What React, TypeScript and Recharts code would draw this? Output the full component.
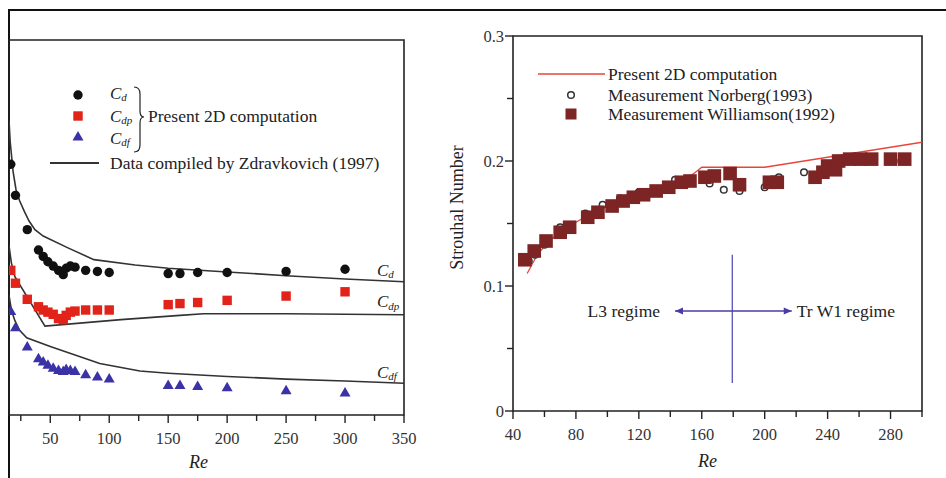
import {
  ComposedChart, Line, Scatter, XAxis, YAxis,
  ReferenceArea, ReferenceLine, ReferenceDot,
} from "recharts";

const SERIF = "'Liberation Serif', 'Times New Roman', serif";
const INK = "#222";

// ---- left panel: drag coefficients, present 2D computation ----
const RE_2D = [16.5, 20.5, 30.5, 40, 44, 48, 52.5, 57, 61, 63.5, 67, 71, 80, 90, 100, 150, 160, 175, 200, 250, 300];
const CD_2D = [2.34, 2.05, 1.73, 1.54, 1.48, 1.43, 1.39, 1.35, 1.31, 1.37, 1.39, 1.38, 1.35, 1.34, 1.33, 1.32, 1.32, 1.33, 1.33, 1.34, 1.36];
const CDP_2D = [1.35, 1.23, 1.08, 1.01, 0.98, 0.96, 0.94, 0.9, 0.89, 0.93, 0.96, 0.97, 0.98, 0.98, 0.98, 1.03, 1.04, 1.05, 1.07, 1.11, 1.15];
const CDF_2D = [0.97, 0.82, 0.64, 0.53, 0.5, 0.47, 0.44, 0.42, 0.41, 0.43, 0.42, 0.41, 0.38, 0.36, 0.34, 0.28, 0.28, 0.27, 0.26, 0.23, 0.21];

// Zdravkovich (1997) compiled curves
const ZD_CD_RE = [15, 16, 18.5, 21, 24, 28, 32, 37, 44, 65, 87, 122, 150, 200, 250, 300, 350];
const ZD_CD = [2.75, 2.55, 2.27, 2.1, 2.0, 1.9, 1.81, 1.73, 1.67, 1.56, 1.45, 1.4, 1.37, 1.335, 1.3, 1.27, 1.244];
const ZD_CDP_RE = [15, 17, 20, 45.5, 110, 160, 180, 250, 350];
const ZD_CDP = [1.58, 1.42, 1.29, 0.83, 0.89, 0.93, 0.945, 0.945, 0.935];
const ZD_CDF_RE = [15, 17, 20, 24, 30, 50, 92, 126, 150, 200, 250, 300, 350];
const ZD_CDF = [1.12, 0.98, 0.88, 0.79, 0.72, 0.64, 0.48, 0.41, 0.39, 0.36, 0.335, 0.318, 0.296];

// ---- right panel: Strouhal number ----
const ST_2D_RE = [49, 52, 55, 60, 65, 70, 80, 90, 100, 110, 120, 130, 140, 150, 155, 160, 200, 300];
const ST_2D = [0.11, 0.117, 0.124, 0.132, 0.138, 0.143, 0.151, 0.158, 0.164, 0.169, 0.174, 0.178, 0.182, 0.1865, 0.19, 0.195, 0.195, 0.215];
const NORBERG_RE = [50, 54, 60, 70, 86, 97, 108, 120, 143, 165, 174, 184, 200, 209, 225, 251, 282];
const NORBERG_ST = [0.12, 0.125, 0.133, 0.147, 0.158, 0.165, 0.17, 0.175, 0.185, 0.182, 0.177, 0.176, 0.179, 0.187, 0.191, 0.2, 0.2];
const WILLIAMSON_RE = [47.5, 53.5, 61, 70, 76, 87.5, 94, 103, 110, 116.5, 123, 131, 139, 147, 152.5, 162, 168, 178, 184, 203, 208, 232, 237, 240, 245, 247, 254, 261, 268, 280, 289];
const WILLIAMSON_ST = [0.121, 0.128, 0.136, 0.143, 0.147, 0.155, 0.159, 0.164, 0.168, 0.171, 0.173, 0.176, 0.179, 0.183, 0.184, 0.187, 0.188, 0.19, 0.181, 0.183, 0.183, 0.187, 0.191, 0.196, 0.193, 0.2, 0.2015, 0.2015, 0.2015, 0.2015, 0.2015];

// regime marker: boundary Re and arrow extent
const REGIME_RE = 179.4;
const ARROW_FROM = 143;
const ARROW_TO = 217.2;
const ARROW_ST = 0.08;

const LEFT_TICKS = [25, 50, 75, 100, 125, 150, 175, 200, 225, 250, 275, 300, 325, 350];
const RIGHT_TICKS = [40, 60, 80, 100, 120, 140, 160, 180, 200, 220, 240, 260, 280, 300];
const ST_TICKS = [0, 0.05, 0.1, 0.15, 0.2, 0.25, 0.3];

const zip = (xs: number[], ys: number[]) => xs.map((re, i) => ({ re, v: ys[i] }));

const makeXTick = (isMajor: (v: number) => boolean) => ({ x, y, payload }: any) => {
  const major = isMajor(payload.value);
  return (
    <g>
      <line x1={x} y1={y} x2={x} y2={y + (major ? 8 : 6)} stroke={INK} strokeWidth={1.4} />
      {major && (
        <text x={x} y={y + 23} textAnchor="middle" dominantBaseline="central"
          fontFamily={SERIF} fontSize={16.5} fill="#333">
          {payload.value}
        </text>
      )}
    </g>
  );
};

const StTick = ({ x, y, payload }: any) => {
  const v = payload.value;
  const major = Math.abs(v * 10 - Math.round(v * 10)) < 1e-6;
  return (
    <g>
      <line x1={x} y1={y} x2={x - (major ? 8 : 6)} y2={y} stroke={INK} strokeWidth={1.4} />
      {major && (
        <text x={x - 9} y={y} textAnchor="end" dominantBaseline="central"
          fontFamily={SERIF} fontSize={16.5} fill="#333">
          {String(v)}
        </text>
      )}
    </g>
  );
};

const reLabel = (dx: number, dy: number) => ({ viewBox }: any) => (
  <text x={viewBox.x + viewBox.width / 2 + dx} y={viewBox.y + dy} textAnchor="middle"
    dominantBaseline="central" fontFamily={SERIF} fontStyle="italic" fontSize={18} fill={INK}>
    Re
  </text>
);

const Coef = ({ x, y, sub }: { x: number; y: number; sub: string }) => (
  <text x={x} y={y} fontFamily={SERIF} fontStyle="italic" fontSize={17} fill={INK} dominantBaseline="central">
    C<tspan fontSize={11} dy={4}>{sub}</tspan>
  </text>
);

// markers
const BlackDot = (p: any) => <circle cx={p.cx} cy={p.cy} r={4.7} fill="#111" />;
const RedSquare = (p: any) => (
  <rect x={p.cx - 4.7} y={p.cy - 4.7} width={9.4} height={9.4} fill="#e2231a" />
);
const BlueTriangle = (p: any) => (
  <polygon points={`${p.cx},${p.cy - 5.5} ${p.cx + 5.5},${p.cy + 4} ${p.cx - 5.5},${p.cy + 4}`} fill="#3a32a6" />
);
const BrownSquare = (p: any) => (
  <rect x={p.cx - 6.8} y={p.cy - 6.8} width={13.6} height={13.6} fill="#7d2424" />
);
const OpenCircle = (p: any) => (
  <circle cx={p.cx} cy={p.cy} r={3.3} fill="#fff" stroke="#333" strokeWidth={1.5} />
);

const ARROW = "#4a3da5";

function DragPanel() {
  return (
    <ComposedChart width={420} height={478} margin={{ top: 40, right: 16, bottom: 33, left: 9 }}>
      <XAxis type="number" dataKey="re" domain={[15, 350]} ticks={LEFT_TICKS} allowDataOverflow
        height={30} axisLine={false} tickLine={false} tickSize={0} tickMargin={0}
        tick={makeXTick((v) => v % 50 === 0)} label={{ content: reLabel(-8, 47) }} />
      <YAxis type="number" dataKey="v" domain={[0, 3.5]} hide allowDataOverflow />
      <ReferenceArea x1={15} x2={350} y1={0} y2={3.5} fill="none" stroke={INK} strokeWidth={1.6} />

      <Line data={zip(ZD_CD_RE, ZD_CD)} dataKey="v" type="linear" stroke="#333" strokeWidth={1.6} dot={false} isAnimationActive={false} />
      <Line data={zip(ZD_CDP_RE, ZD_CDP)} dataKey="v" type="linear" stroke="#333" strokeWidth={1.6} dot={false} isAnimationActive={false} />
      <Line data={zip(ZD_CDF_RE, ZD_CDF)} dataKey="v" type="linear" stroke="#333" strokeWidth={1.6} dot={false} isAnimationActive={false} />

      <Scatter data={zip(RE_2D, CD_2D)} shape={BlackDot} isAnimationActive={false} />
      <Scatter data={zip(RE_2D, CDP_2D)} shape={RedSquare} isAnimationActive={false} />
      <Scatter data={zip(RE_2D, CDF_2D)} shape={BlueTriangle} isAnimationActive={false} />

      <ReferenceDot x={327} y={1.353} r={1} shape={(p: any) => <Coef x={p.cx} y={p.cy} sub="d" />} />
      <ReferenceDot x={327} y={1.055} r={1} shape={(p: any) => <Coef x={p.cx} y={p.cy} sub="dp" />} />
      <ReferenceDot x={327} y={0.401} r={1} shape={(p: any) => <Coef x={p.cx} y={p.cy} sub="df" />} />
    </ComposedChart>
  );
}

function StrouhalPanel() {
  return (
    <ComposedChart width={526} height={478} margin={{ top: 36, right: 24, bottom: 37, left: 33 }}>
      <XAxis type="number" dataKey="re" domain={[40, 300]} ticks={RIGHT_TICKS} allowDataOverflow
        height={30} axisLine={false} tickLine={false} tickSize={0} tickMargin={0}
        tick={makeXTick((v) => v % 40 === 0)} label={{ content: reLabel(-10, 50) }} />
      <YAxis type="number" dataKey="v" domain={[0, 0.3]} ticks={ST_TICKS} allowDataOverflow
        width={60} axisLine={false} tickLine={false} tickSize={0} tickMargin={0} tick={StTick}
        label={{
          content: ({ viewBox }: any) => {
            const cx = viewBox.x + 4;
            const cy = viewBox.y + viewBox.height / 2 - 16;
            return (
              <text x={cx} y={cy} transform={`rotate(-90 ${cx} ${cy})`} textAnchor="middle"
                dominantBaseline="central" fontFamily={SERIF} fontSize={18} fill={INK}>
                Strouhal Number
              </text>
            );
          },
        }} />
      <ReferenceArea x1={40} x2={300} y1={0} y2={0.3} fill="none" stroke={INK} strokeWidth={1.6} />

      {/* Norberg rings sit under the Williamson squares */}
      <Line data={zip(ST_2D_RE, ST_2D)} dataKey="v" type="linear" stroke="#e8443a" strokeWidth={1.3} dot={false} isAnimationActive={false} />
      <Scatter data={zip(NORBERG_RE, NORBERG_ST)} shape={OpenCircle} isAnimationActive={false} />
      <Scatter data={zip(WILLIAMSON_RE, WILLIAMSON_ST)} shape={BrownSquare} isAnimationActive={false} />

      <ReferenceLine segment={[{ x: REGIME_RE, y: 0.0224 }, { x: REGIME_RE, y: 0.125 }]} stroke="#5a50b8" strokeWidth={1.3} />
      <ReferenceLine segment={[{ x: ARROW_FROM, y: ARROW_ST }, { x: ARROW_TO, y: ARROW_ST }]} stroke={ARROW} strokeWidth={1.6} />
      <ReferenceDot x={ARROW_FROM} y={ARROW_ST} r={1} shape={(p: any) => (
        <g>
          <polygon points={`${p.cx},${p.cy} ${p.cx + 8},${p.cy - 3.5} ${p.cx + 8},${p.cy + 3.5}`} fill={ARROW} />
          <text x={p.cx - 15} y={p.cy} textAnchor="end" dominantBaseline="central" fontFamily={SERIF} fontSize={17.5} fill={INK}>
            L3 regime
          </text>
        </g>
      )} />
      <ReferenceDot x={ARROW_TO} y={ARROW_ST} r={1} shape={(p: any) => (
        <g>
          <polygon points={`${p.cx},${p.cy} ${p.cx - 8},${p.cy - 3.5} ${p.cx - 8},${p.cy + 3.5}`} fill={ARROW} />
          <text x={p.cx + 5} y={p.cy} dominantBaseline="central" fontFamily={SERIF} fontSize={17.5} fill={INK}>
            Tr W1 regime
          </text>
        </g>
      )} />
    </ComposedChart>
  );
}

const legendText = { fontFamily: SERIF, fontSize: 17.5, fill: INK, dominantBaseline: "central" as const };

export default function App() {
  return (
    <div style={{ position: "absolute", left: 0, top: 0, width: 946, height: 478, background: "#fff", overflow: "hidden" }}>
      {/* outer frame */}
      <div style={{ position: "absolute", left: 8, top: 9, width: 938, height: 469, borderTop: "2px solid #111", borderLeft: "2px solid #111" }} />

      <div style={{ position: "absolute", left: 0, top: 0 }}>
        <DragPanel />
      </div>
      <div style={{ position: "absolute", left: 420, top: 0 }}>
        <StrouhalPanel />
      </div>

      {/* legends */}
      <svg width={946} height={200} style={{ position: "absolute", left: 0, top: 0, pointerEvents: "none" }}>
        <circle cx={78} cy={95} r={4.7} fill="#111" />
        <rect x={73.3} y={111.3} width={9.4} height={9.4} fill="#e2231a" />
        <polygon points="78,131 83.5,140.5 72.5,140.5" fill="#3a32a6" />
        <Coef x={110} y={93} sub="d" />
        <Coef x={110} y={116} sub="dp" />
        <Coef x={110} y={138} sub="df" />
        <path d="M134,87 Q140,87 140,94 L140,111 Q140,117 144,117 Q140,117 140,123 L140,145 Q140,152 134,152"
          fill="none" stroke={INK} strokeWidth={1.2} />
        <text x={148} y={116} {...legendText}>Present 2D computation</text>
        <line x1={50} y1={163} x2={99} y2={163} stroke="#333" strokeWidth={2} />
        <text x={110} y={163} {...legendText}>Data compiled by Zdravkovich (1997)</text>

        <line x1={538} y1={74} x2={605} y2={74} stroke="#e8443a" strokeWidth={1.3} />
        <text x={608} y={74} {...legendText}>Present 2D computation</text>
        <circle cx={571} cy={95} r={3.3} fill="#fff" stroke="#333" strokeWidth={1.5} />
        <text x={608} y={95} {...legendText}>Measurement Norberg(1993)</text>
        <rect x={565.5} y={108.5} width={11} height={11} fill="#7d2424" />
        <text x={608} y={114} {...legendText}>Measurement Williamson(1992)</text>
      </svg>
    </div>
  );
}
